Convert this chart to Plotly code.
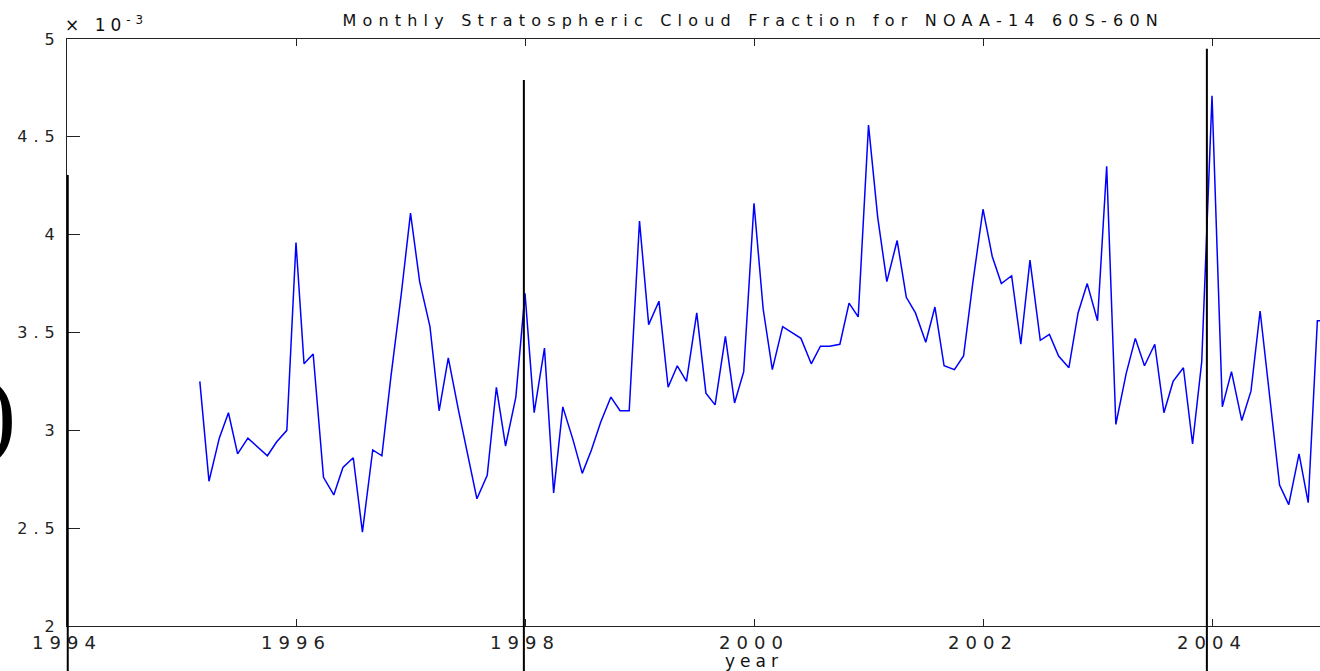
import plotly.graph_objects as go

# Monthly stratospheric cloud fraction (units of 1e-3), NOAA-14, 60S-60N
years = [1995.16, 1995.24, 1995.33, 1995.41, 1995.49, 1995.58, 1995.75, 1995.83, 1995.92,
         1996.00, 1996.07, 1996.15, 1996.24, 1996.33, 1996.41, 1996.50, 1996.58, 1996.67,
         1996.75, 1996.83, 1996.92, 1997.00, 1997.08, 1997.17, 1997.25, 1997.33, 1997.42,
         1997.50, 1997.58, 1997.67, 1997.75, 1997.83, 1997.92, 1998.00, 1998.08, 1998.17,
         1998.25, 1998.33, 1998.42, 1998.50, 1998.58, 1998.66, 1998.75, 1998.83, 1998.91,
         1999.00, 1999.08, 1999.17, 1999.25, 1999.33, 1999.41, 1999.50, 1999.58, 1999.66,
         1999.75, 1999.83, 1999.91, 2000.00, 2000.08, 2000.16, 2000.25, 2000.41, 2000.50,
         2000.58, 2000.66, 2000.75, 2000.83, 2000.91, 2001.00, 2001.08, 2001.16, 2001.25,
         2001.33, 2001.41, 2001.50, 2001.58, 2001.66, 2001.75, 2001.83, 2001.91, 2002.00,
         2002.08, 2002.16, 2002.25, 2002.33, 2002.41, 2002.50, 2002.58, 2002.66, 2002.75,
         2002.83, 2002.91, 2003.00, 2003.08, 2003.16, 2003.25, 2003.33, 2003.41, 2003.50,
         2003.58, 2003.66, 2003.75, 2003.83, 2003.91, 2004.00, 2004.09, 2004.17, 2004.26,
         2004.34, 2004.42, 2004.51, 2004.59, 2004.67, 2004.76, 2004.84, 2004.92, 2005.00]

cloud_fraction_e3 = [3.25, 2.74, 2.96, 3.09, 2.88, 2.96, 2.87, 2.94, 3.00,
                     3.96, 3.34, 3.39, 2.76, 2.67, 2.81, 2.86, 2.48, 2.90,
                     2.87, 3.28, 3.70, 4.11, 3.76, 3.53, 3.10, 3.37, 3.10,
                     2.88, 2.65, 2.77, 3.22, 2.92, 3.17, 3.70, 3.09, 3.42,
                     2.68, 3.12, 2.95, 2.78, 2.90, 3.04, 3.17, 3.10, 3.10,
                     4.07, 3.54, 3.66, 3.22, 3.33, 3.25, 3.60, 3.19, 3.13,
                     3.48, 3.14, 3.30, 4.16, 3.62, 3.31, 3.53, 3.47, 3.34,
                     3.43, 3.43, 3.44, 3.65, 3.58, 4.56, 4.09, 3.76, 3.97,
                     3.68, 3.60, 3.45, 3.63, 3.33, 3.31, 3.38, 3.75, 4.13,
                     3.89, 3.75, 3.79, 3.44, 3.87, 3.46, 3.49, 3.38, 3.32,
                     3.60, 3.75, 3.56, 4.35, 3.03, 3.29, 3.47, 3.33, 3.44,
                     3.09, 3.25, 3.32, 2.93, 3.35, 4.71, 3.12, 3.30, 3.05,
                     3.20, 3.61, 3.15, 2.72, 2.62, 2.88, 2.63, 3.56, 3.56]

x_ticks = [1994, 1996, 1998, 2000, 2002, 2004]
x_tick_labels = ["1994", "1996", "1998", "2000", "2002", "2004"]
y_ticks = [2, 2.5, 3, 3.5, 4, 4.5, 5]
y_tick_labels = ["2", "2.5", "3", "3.5", "4", "4.5", "5"]

marker_years = [1997.99, 2003.955]   # vertical black marker lines
marker_tops = [4.79, 4.95]

X_RANGE = [1994, 2004.943]
Y_RANGE = [2, 5]

W, H = 1320, 671
ML, MR, MT, MB = 67, 0, 39, 45
plot_w = W - ML - MR
plot_h = H - MT - MB

def xp(year):
    return (year - X_RANGE[0]) / (X_RANGE[1] - X_RANGE[0])

def yp_val(v):
    return (v - Y_RANGE[0]) / (Y_RANGE[1] - Y_RANGE[0])

def yp_px(py):
    return 1 - (py - MT) / plot_h

fig = go.Figure()
fig.add_trace(go.Scatter(
    x=years, y=cloud_fraction_e3, mode="lines",
    line=dict(color="#0000ff", width=1.5), showlegend=False,
))

font_main = "DejaVu Sans"
shapes = []
for yr, top in zip(marker_years, marker_tops):
    shapes.append(dict(type="line", xref="paper", yref="paper",
                       x0=xp(yr), x1=xp(yr), y0=yp_val(top), y1=yp_px(H),
                       line=dict(color="black", width=2)))
# thick left overlay line
shapes.append(dict(type="line", xref="paper", yref="paper",
                   x0=0.0006, x1=0.0006, y0=yp_px(175), y1=yp_px(H),
                   line=dict(color="black", width=2)))

annotations = [
    dict(text="Monthly Stratospheric Cloud Fraction for NOAA-14 60S-60N",
         xref="paper", yref="paper", x=(753 - ML) / plot_w, y=yp_px(20),
         xanchor="center", yanchor="middle", showarrow=False,
         font=dict(family=font_main, size=16, color="#111")),
    dict(text="× 10<sup>-3</sup>", xref="paper", yref="paper", x=(78 - ML) / plot_w, y=yp_px(24),
         xanchor="left", yanchor="middle", showarrow=False,
         font=dict(family=font_main, size=17, color="#111")),
    dict(text="year", xref="paper", yref="paper", x=(754 - ML) / plot_w, y=yp_px(661),
         xanchor="center", yanchor="middle", showarrow=False,
         font=dict(family=font_main, size=17, color="#111")),
    dict(text="0)", xref="paper", yref="paper", x=(18 - ML) / plot_w, y=yp_px(412),
         xanchor="right", yanchor="middle", showarrow=False,
         font=dict(family="Liberation Serif", size=100, color="black")),
]

fig.update_layout(
    width=W, height=H,
    margin=dict(l=ML, r=MR, t=MT, b=MB, pad=0),
    paper_bgcolor="white", plot_bgcolor="white",
    shapes=shapes, annotations=annotations,
    xaxis=dict(range=X_RANGE, tickvals=x_ticks, ticktext=x_tick_labels,
               ticks="inside", ticklen=7, tickwidth=1, tickcolor="#222",
               showline=True, linecolor="#222", linewidth=1, mirror="ticks",
               showgrid=False, zeroline=False,
               tickfont=dict(family=font_main, size=18, color="#222")),
    yaxis=dict(range=Y_RANGE, tickvals=y_ticks, ticktext=y_tick_labels,
               ticks="inside", ticklen=13, tickwidth=1, tickcolor="#222",
               showline=True, linecolor="#222", linewidth=1, mirror=False,
               showgrid=False, zeroline=False, ticklabelstandoff=2,
               tickfont=dict(family=font_main, size=16, color="#222")),
)

# The reference's lettering is horizontally stretched; widen it with letter spacing.
post_js = """
var gd = document.getElementById('{plot_id}');
function widenText(){
  gd.querySelectorAll('.xtick text').forEach(function(t){ t.style.letterSpacing = '6px'; });
  gd.querySelectorAll('.ytick text').forEach(function(t){ t.style.letterSpacing = '6px'; });
  gd.querySelectorAll('.annotation').forEach(function(a){
    var i = a.getAttribute('data-index');
    var t = a.querySelector('.annotation-text');
    if (!t) return;
    if (i === '0') t.style.letterSpacing = '6.2px';
    if (i === '1') t.style.letterSpacing = '5px';
    if (i === '2') t.style.letterSpacing = '5px';
  });
}
widenText();
gd.on('plotly_afterplot', widenText);
"""

fig.write_html("out.html", post_script=post_js)
